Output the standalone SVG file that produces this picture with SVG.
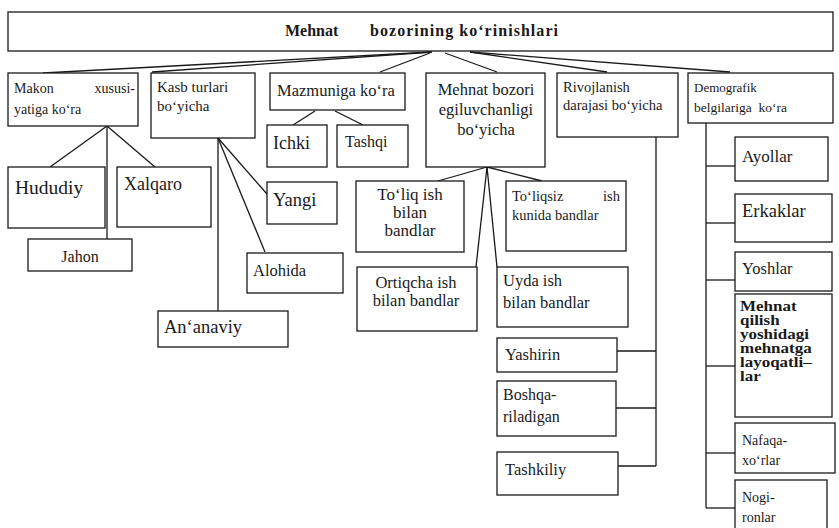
<svg xmlns="http://www.w3.org/2000/svg" width="839" height="528" viewBox="0 0 839 528">
<style>
rect{fill:#fff;stroke:#1a1a1a;stroke-width:1.3}
text{font-family:"Liberation Serif","Times New Roman",serif;fill:#1a1a1a}
#connectors line{stroke:#1a1a1a;stroke-width:1.3;fill:none}
</style>
<rect x="0" y="0" width="839" height="528" style="stroke:none"/>
<g id="connectors">
<line x1="432" y1="52" x2="43" y2="73"/>
<line x1="432" y1="52" x2="152" y2="72"/>
<line x1="430" y1="53" x2="380" y2="72"/>
<line x1="445" y1="53" x2="497" y2="72"/>
<line x1="470" y1="52" x2="607" y2="72"/>
<line x1="470" y1="52" x2="730" y2="72"/>
<line x1="107" y1="126" x2="50" y2="167"/>
<line x1="107" y1="126" x2="155" y2="167"/>
<line x1="107" y1="126" x2="107" y2="239"/>
<line x1="218" y1="138" x2="267" y2="194"/>
<line x1="218" y1="138" x2="265" y2="252"/>
<line x1="218" y1="138" x2="218" y2="311"/>
<line x1="315" y1="111" x2="293" y2="125"/>
<line x1="335" y1="111" x2="363" y2="125"/>
<line x1="487" y1="167" x2="438" y2="181"/>
<line x1="487" y1="167" x2="542" y2="181"/>
<line x1="487" y1="167" x2="476" y2="267"/>
<line x1="487" y1="167" x2="497" y2="267"/>
<line x1="656" y1="137" x2="656" y2="466"/>
<line x1="617" y1="351" x2="656" y2="351"/>
<line x1="616" y1="408" x2="656" y2="408"/>
<line x1="618" y1="466" x2="656" y2="466"/>
<line x1="706" y1="123" x2="706" y2="508"/>
<line x1="706" y1="166" x2="735" y2="166"/>
<line x1="706" y1="223" x2="735" y2="223"/>
<line x1="706" y1="280" x2="735" y2="280"/>
<line x1="706" y1="366" x2="735" y2="366"/>
<line x1="706" y1="453" x2="735" y2="453"/>
<line x1="706" y1="508" x2="738" y2="508"/>
</g>
<g id="title"><rect x="8" y="12" width="825" height="39"/>
<text x="285" y="36" style="font-size:16px;font-weight:bold">Mehnat</text>
<text x="370" y="36" style="font-size:16px;font-weight:bold" textLength="188" lengthAdjust="spacing">bozorining koʻrinishlari</text></g>
<g id="makon"><rect x="8" y="73" width="130" height="53"/>
<text x="14" y="93" style="font-size:14px">Makon</text><text x="135" y="93" text-anchor="end" style="font-size:14px">xususi-</text>
<text x="14" y="114" style="font-size:14px">yatiga koʻra</text></g>
<g id="kasb"><rect x="151" y="73" width="104" height="65"/>
<text x="157" y="92" style="font-size:15px">Kasb turlari</text><text x="157" y="111" style="font-size:15px">boʻyicha</text></g>
<g id="mazmun"><rect x="270" y="73" width="135" height="37"/>
<text x="277" y="96" style="font-size:16.5px">Mazmuniga koʻra</text></g>
<g id="egiluv"><rect x="426" y="73" width="119" height="94"/>
<text x="486" y="95" text-anchor="middle" style="font-size:16.5px">Mehnat bozori</text>
<text x="486" y="115" text-anchor="middle" style="font-size:16.5px">egiluvchanligi</text>
<text x="486" y="135" text-anchor="middle" style="font-size:16.5px">boʻyicha</text></g>
<g id="rivoj"><rect x="557" y="73" width="121" height="64"/>
<text x="563" y="92" style="font-size:14.5px">Rivojlanish</text><text x="563" y="110" style="font-size:14.5px">darajasi boʻyicha</text></g>
<g id="demog"><rect x="688" y="73" width="145" height="50"/>
<text x="694" y="92" style="font-size:13px">Demografik</text>
<text x="694" y="112" style="font-size:13.5px">belgilariga</text><text x="787" y="112" text-anchor="end" style="font-size:13.5px">koʻra</text></g>
<g id="hududiy"><rect x="8" y="167" width="97" height="61"/><text x="15" y="194" style="font-size:19.5px">Hududiy</text></g>
<g id="xalqaro"><rect x="117" y="167" width="94" height="60"/><text x="124" y="190" style="font-size:18px">Xalqaro</text></g>
<g id="jahon"><rect x="28" y="239" width="104" height="32"/><text x="80" y="262" text-anchor="middle" style="font-size:16px">Jahon</text></g>
<g id="ichki"><rect x="267" y="125" width="60" height="42"/><text x="273" y="149" style="font-size:18px">Ichki</text></g>
<g id="tashqi"><rect x="337" y="125" width="71" height="42"/><text x="345" y="147" style="font-size:16px">Tashqi</text></g>
<g id="yangi"><rect x="267" y="182" width="70" height="42"/><text x="273" y="206" style="font-size:18.5px">Yangi</text></g>
<g id="alohida"><rect x="247" y="253" width="96" height="40"/><text x="253" y="276" style="font-size:16.5px">Alohida</text></g>
<g id="ananaviy"><rect x="158" y="311" width="130" height="36"/><text x="164" y="333" style="font-size:18.5px">Anʻanaviy</text></g>
<g id="toliq"><rect x="356" y="181" width="108" height="71"/>
<text x="410" y="200" text-anchor="middle" style="font-size:17px">Toʻliq ish</text>
<text x="410" y="218" text-anchor="middle" style="font-size:17px">bilan</text>
<text x="410" y="236" text-anchor="middle" style="font-size:17px">bandlar</text></g>
<g id="toliqsiz"><rect x="506" y="181" width="120" height="70"/>
<text x="512" y="201" style="font-size:14.5px">Toʻliqsiz</text><text x="620" y="201" text-anchor="end" style="font-size:14.5px">ish</text>
<text x="512" y="220" style="font-size:14.5px">kunida bandlar</text></g>
<g id="ortiqcha"><rect x="357" y="267" width="120" height="64"/>
<text x="416" y="288" text-anchor="middle" style="font-size:16.5px">Ortiqcha ish</text>
<text x="416" y="306" text-anchor="middle" style="font-size:16.5px">bilan bandlar</text></g>
<g id="uyda"><rect x="497" y="267" width="131" height="60"/>
<text x="503" y="286" style="font-size:16.5px">Uyda ish</text><text x="503" y="308" style="font-size:16.5px">bilan bandlar</text></g>
<g id="yashirin"><rect x="497" y="338" width="120" height="34"/><text x="505" y="360" style="font-size:16.5px">Yashirin</text></g>
<g id="boshqa"><rect x="497" y="381" width="119" height="55"/>
<text x="503" y="400" style="font-size:16px">Boshqa-</text><text x="503" y="422" style="font-size:16px">riladigan</text></g>
<g id="tashkiliy"><rect x="497" y="452" width="121" height="43"/><text x="505" y="475" style="font-size:16.5px">Tashkiliy</text></g>
<g id="ayollar"><rect x="735" y="137" width="93" height="44"/><text x="742" y="162" style="font-size:17px">Ayollar</text></g>
<g id="erkaklar"><rect x="735" y="194" width="97" height="48"/><text x="742" y="217" style="font-size:18.5px">Erkaklar</text></g>
<g id="yoshlar"><rect x="735" y="252" width="97" height="39"/><text x="742" y="274" style="font-size:16.5px">Yoshlar</text></g>
<g id="mehnatqilish"><rect x="735" y="294" width="97" height="123"/>
<text transform="matrix(1,0,0,0.8,0,0)" style="font-size:17px;font-weight:bold">
<tspan x="740" y="388.5">Mehnat</tspan>
<tspan x="740" y="406">qilish</tspan>
<tspan x="740" y="423.5">yoshidagi</tspan>
<tspan x="740" y="441">mehnatga</tspan>
<tspan x="740" y="458.5">layoqatli–</tspan>
<tspan x="740" y="476">lar</tspan></text></g>
<g id="nafaqa"><rect x="735" y="423" width="100" height="50"/>
<text x="742" y="445" style="font-size:14px">Nafaqa-</text><text x="742" y="465" style="font-size:14px">xoʻrlar</text></g>
<g id="nogironlar"><rect x="735" y="480" width="92" height="60"/>
<text x="742" y="502" style="font-size:14px">Nogi-</text><text x="742" y="522" style="font-size:14px">ronlar</text></g>
</svg>
